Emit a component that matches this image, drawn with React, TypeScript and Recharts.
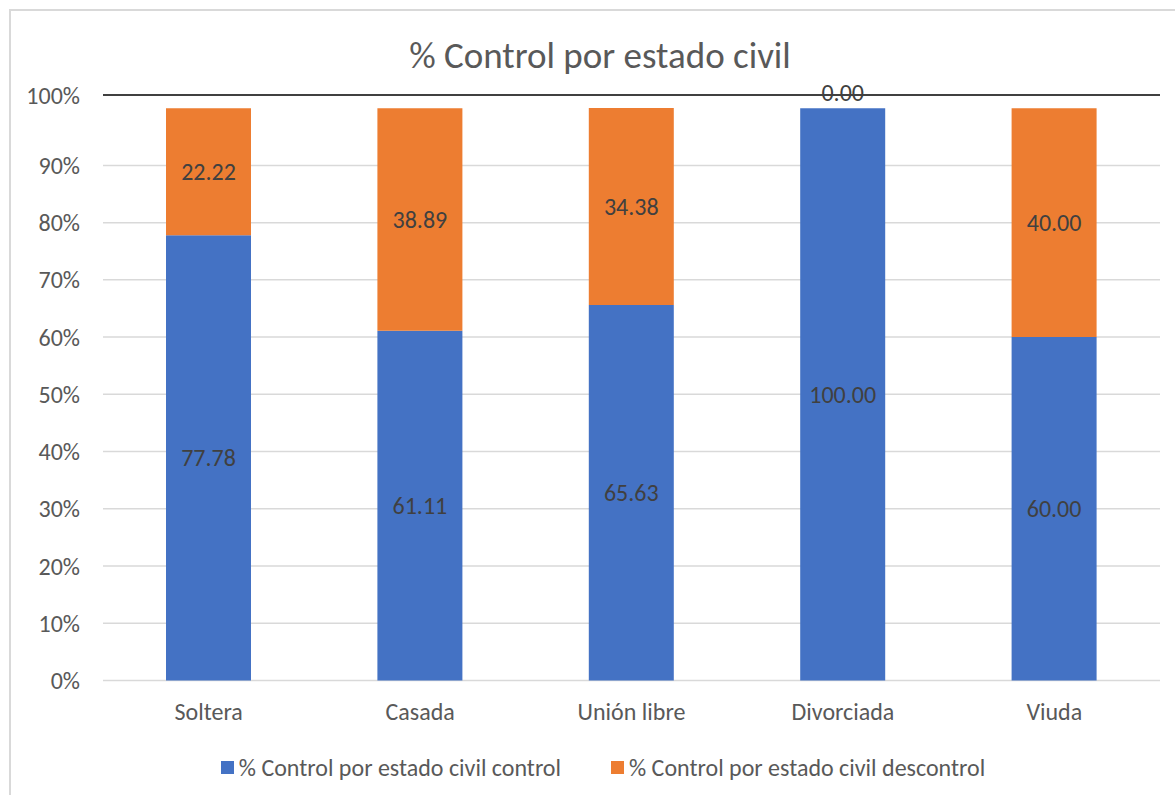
import React from 'react'
import {
  BarChart, Bar, XAxis, YAxis, CartesianGrid, Legend, LabelList, ReferenceLine,
} from 'recharts'

const categories = ['Soltera', 'Casada', 'Unión libre', 'Divorciada', 'Viuda']
const controlValues = [77.78, 61.11, 65.63, 100.0, 60.0]
const descontrolValues = [22.22, 38.89, 34.38, 0.0, 40.0]
const yTicks = [0, 10, 20, 30, 40, 50, 60, 70, 80, 90, 102.3]

const seriesNames = {
  control: '% Control por estado civil control',
  descontrol: '% Control por estado civil descontrol',
}

const data = categories.map((name, i) => ({
  name,
  control: controlValues[i],
  descontrol: descontrolValues[i],
}))

const FONT = 'Calibri, Carlito, "Open Sans", sans-serif'
const BLUE = '#4472C4'
const ORANGE = '#ED7D31'

function yFmt(v: number) {
  if (v > 100) return '100%'
  return `${v}%`
}

function SegmentLabel(props: any) {
  const { x, y, width, height, value } = props
  if (value === undefined || value === null) return null
  return (
    <text x={x + width / 2} y={y + height / 2} dy="0.35em" textAnchor="middle" fill="#404040" fontSize={24} fontFamily={FONT}>
      {Number(value).toFixed(2)}
    </text>
  )
}

// zero-height segments are not drawn, so their label goes above the stack
function ZeroTopLabel(props: any) {
  const { x, y, width, value } = props
  if (value !== 0) return null
  return (
    <text x={x + width / 2} y={y - 16} dy="0.35em" textAnchor="middle" fill="#404040" fontSize={24} fontFamily={FONT}>
      {Number(value).toFixed(2)}
    </text>
  )
}

function CustomLegend() {
  const items = [
    { label: seriesNames.control, color: BLUE },
    { label: seriesNames.descontrol, color: ORANGE },
  ]
  return (
    <div style={{ display: 'flex', justifyContent: 'center', gap: 50, paddingLeft: 31, fontFamily: FONT, fontSize: 24, color: '#595959', height: 30, alignItems: 'center' }}>
      {items.map(it => (
        <span key={it.label} style={{ display: 'flex', alignItems: 'center', gap: 5 }}>
          <span style={{ width: 13, height: 13, background: it.color, display: 'inline-block' }} />
          {it.label}
        </span>
      ))}
    </div>
  )
}

export default function App() {
  return (
    <div style={{ position: 'absolute', left: 0, top: 0, width: 1175, height: 795, background: '#fff', overflow: 'hidden' }}>
      <div style={{ position: 'absolute', left: 9, top: 9, right: -5, bottom: -5, borderTop: '2px solid #d9d9d9', borderLeft: '2px solid #d9d9d9' }} />
      <div style={{ position: 'absolute', left: 0, top: 33, width: 1200, textAlign: 'center', fontFamily: FONT, fontSize: 37, color: '#595959' }}>
        % Control por estado civil
      </div>
      <div style={{ position: 'absolute', left: 0, top: 0 }}>
        <BarChart
          width={1175}
          height={795}
          data={data}
          margin={{ top: 95, right: 15, bottom: 34.5, left: 0 }}
          barSize={85}
        >
          <CartesianGrid vertical={false} stroke="#d9d9d9" strokeWidth={1.5} />
          <XAxis
            dataKey="name"
            axisLine={false}
            tickLine={false}
            height={50}
            tickSize={0}
            tickMargin={22}
            tick={{ fill: '#595959', fontSize: 24, fontFamily: FONT }}
          />
          <YAxis
            domain={[0, 102.3]}
            ticks={yTicks}
            tickFormatter={yFmt}
            axisLine={false}
            tickLine={false}
            tickSize={0}
            tickMargin={23}
            width={103}
            tick={{ fill: '#595959', fontSize: 24, fontFamily: FONT }}
            interval={0}
          />
          <ReferenceLine y={102.3} stroke="#404040" strokeWidth={2} />
          <Legend
            verticalAlign="bottom"
            content={<CustomLegend />}
            wrapperStyle={{ bottom: 13, left: 0, width: 1175, height: 30 }}
          />
          <Bar dataKey="control" name={seriesNames.control} stackId="a" fill={BLUE} isAnimationActive={false}>
            <LabelList dataKey="control" content={<SegmentLabel />} />
            <LabelList dataKey="descontrol" content={<ZeroTopLabel />} />
          </Bar>
          <Bar dataKey="descontrol" name={seriesNames.descontrol} stackId="a" fill={ORANGE} isAnimationActive={false}>
            <LabelList dataKey="descontrol" content={<SegmentLabel />} />
          </Bar>
        </BarChart>
      </div>
    </div>
  )
}
